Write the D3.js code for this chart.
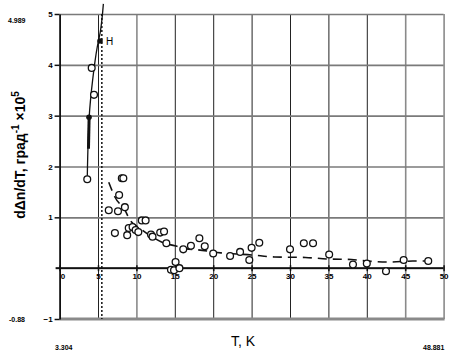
<!DOCTYPE html>
<html lang="ru">
<head>
<meta charset="utf-8">
<title>dΔn/dT vs T</title>
<script src="https://cdn.jsdelivr.net/npm/d3@7"></script>
<style>
  html, body { margin: 0; padding: 0; background: #fff; }
  svg { display: block; }
</style>
</head>
<body>
<svg id="chart"></svg>
<script>
// tick values
const xTicks = [0, 5, 10, 15, 20, 25, 30, 35, 40, 45, 50]
const yTicks = [5, 4, 3, 2, 1, -1]

// steep branch near the transition
const steepT = [3.6, 3.72, 3.85, 4.3, 4.9, 5.3, 5.7]
const steepY = [1.75, 2.5, 2.97, 3.7, 4.35, 4.65, 5.2]
const thickT = [3.76, 3.84]
const thickY = [2.35, 2.95]
const steepOpenT = [3.6, 4.18, 4.48]
const steepOpenY = [1.75, 3.94, 3.41]
const steepFilledT = [3.83, 5.26]
const steepFilledY = [2.97, 4.47]

// dashed fit
const fitT = [6.4, 7.2, 8.5, 9.2, 10.5, 12, 13.5, 15, 16.5, 18, 21, 25, 28, 32, 35, 38, 40, 43, 46, 48]
const fitY = [1.69, 1.4, 1.14, 0.94, 0.78, 0.62, 0.5, 0.44, 0.38, 0.36, 0.3, 0.26, 0.22, 0.21, 0.18, 0.17, 0.14, 0.12, 0.14, 0.14]

// measured points
const pointT = [6.4, 7.2, 7.6, 7.75, 8.1, 8.3, 8.5, 8.8, 9.0, 9.5, 9.9, 10.25, 10.7, 11.2, 11.9, 12.1,
  13.1, 13.6, 13.9, 14.5, 14.9, 15.1, 15.6, 16.1, 17.1, 18.2, 18.9, 20.0, 22.2, 23.5, 24.7, 25.0,
  26.0, 30.0, 31.8, 33.0, 35.1, 38.2, 40.0, 42.5, 44.8, 48.0]
const pointY = [1.14, 0.69, 1.12, 1.44, 1.77, 1.77, 1.2, 0.65, 0.79, 0.81, 0.75, 0.71, 0.94, 0.94, 0.66, 0.62,
  0.7, 0.72, 0.49, -0.03, -0.04, 0.12, 0.0, 0.37, 0.44, 0.59, 0.43, 0.29, 0.24, 0.32, 0.16, 0.4,
  0.5, 0.37, 0.49, 0.49, 0.27, 0.07, 0.09, -0.06, 0.16, 0.14]

const transitionT = 5.5

const width = 463
const height = 362

const x = d3.scaleLinear().domain([0, 50]).range([59.6, 443.6])
const y = d3.scaleLinear().domain([-1, 5]).range([319, 14])

const svg = d3.select("#chart")
    .attr("width", width)
    .attr("height", height)
    .attr("font-family", "'Liberation Sans', Arial, sans-serif")

const zip = (a, b) => a.map((v, i) => [v, b[i]])
const narrow = "'Liberation Sans Narrow', 'Liberation Sans', sans-serif"

// vertical grid via an axis with long ticks
svg.append("g")
    .attr("transform", `translate(0,${y(5)})`)
    .call(d3.axisBottom(x).tickValues(xTicks.slice(1)).tickSize(y(-1) - y(5)).tickFormat(""))
    .call(g => g.select(".domain").remove())
    .call(g => g.selectAll(".tick line")
        .attr("stroke", d => (d === 10 || d === 45 || d === 50) ? "#8a8a8a" : "#222")
        .attr("stroke-width", d => (d === 10 || d === 45 || d === 50) ? 1.6 : 1))

// horizontal grid
svg.append("g")
    .attr("transform", `translate(${x(0)},0)`)
    .call(d3.axisRight(y).tickValues([5, 4, 3, 2, 1]).tickSize(x(50) - x(0)).tickFormat(""))
    .call(g => g.select(".domain").remove())
    .call(g => g.selectAll(".tick line").attr("stroke", "#7a7a7a").attr("stroke-width", 1.6))

// bottom border and zero line as bands
svg.append("rect")
    .attr("x", x(0)).attr("width", x(50) - x(0) + 1)
    .attr("y", y(-1) - 1.5).attr("height", 3)
    .attr("fill", "#8a8a8a")

svg.append("rect")
    .attr("x", x(0) - 4).attr("width", x(50) - x(0) + 4)
    .attr("y", y(0) - 1).attr("height", 2)
    .attr("fill", "#111")

// small ticks and labels along the zero line
svg.append("g")
    .attr("transform", `translate(0,${y(0)})`)
    .call(d3.axisBottom(x).tickValues(xTicks).tickSize(3).tickSizeOuter(0).tickPadding(2))
    .call(g => g.select(".domain").remove())
    .call(g => g.selectAll(".tick line").attr("stroke", "#111").attr("stroke-width", 1.5).attr("y1", -3))
    .call(g => g.selectAll(".tick text")
        .attr("font-size", 8).attr("font-weight", "bold").attr("font-family", narrow)
        .attr("dx", d => d === 0 ? 3 : 0))

// y axis
svg.append("g")
    .attr("transform", `translate(${x(0)},0)`)
    .call(d3.axisLeft(y).tickValues(yTicks).tickFormat(d3.format("d")).tickSize(5).tickPadding(2).tickSizeOuter(0))
    .call(g => g.select(".domain").attr("stroke", "#111").attr("stroke-width", 1.8))
    .call(g => g.selectAll(".tick line").attr("stroke", "#111").attr("stroke-width", 1.5))
    .call(g => g.selectAll(".tick text").attr("font-size", 8).attr("font-weight", "bold").attr("font-family", narrow))

// transition marker
svg.append("line")
    .attr("x1", x(transitionT)).attr("x2", x(transitionT))
    .attr("y1", y(5)).attr("y2", y(-1))
    .attr("stroke", "#111").attr("stroke-width", 1.5)
    .attr("stroke-dasharray", "2,2")

// steep branch
svg.append("path")
    .datum(zip(steepT, steepY))
    .attr("d", d3.line().x(d => x(d[0])).y(d => y(d[1])).curve(d3.curveMonotoneY))
    .attr("fill", "none").attr("stroke", "#111").attr("stroke-width", 1.3)

svg.append("path")
    .datum(zip(thickT, thickY))
    .attr("d", d3.line().x(d => x(d[0])).y(d => y(d[1])))
    .attr("fill", "none").attr("stroke", "#111").attr("stroke-width", 3)

// dashed fit
svg.append("path")
    .datum(zip(fitT, fitY))
    .attr("d", d3.line().x(d => x(d[0])).y(d => y(d[1])).curve(d3.curveMonotoneX))
    .attr("fill", "none").attr("stroke", "#111").attr("stroke-width", 1.6)
    .attr("stroke-dasharray", "9,6")

// points
svg.append("g")
    .selectAll("circle")
    .data(zip(pointT, pointY).concat(zip(steepOpenT, steepOpenY)))
    .join("circle")
    .attr("cx", d => x(d[0]))
    .attr("cy", d => y(d[1]))
    .attr("r", 3.4)
    .attr("fill", "#fff")
    .attr("stroke", "#111")
    .attr("stroke-width", 1.3)

svg.append("g")
    .selectAll("circle")
    .data(zip(steepFilledT, steepFilledY))
    .join("circle")
    .attr("cx", d => x(d[0]))
    .attr("cy", d => y(d[1]))
    .attr("r", 2.8)
    .attr("fill", "#111")

svg.append("text")
    .attr("x", x(5.26) + 6).attr("y", y(4.47) + 4)
    .attr("font-size", 10)
    .text("H")

// axis titles
svg.append("text")
    .attr("transform", "translate(25,155) rotate(-90)")
    .attr("text-anchor", "middle")
    .attr("font-size", 14)
    .attr("font-weight", "bold")
    .call(t => {
        t.append("tspan").text("dΔn/dT, град")
        t.append("tspan").attr("dy", -6).attr("font-size", 10).text("-1")
        t.append("tspan").attr("dy", 6).text(" ×10")
        t.append("tspan").attr("dy", -6).attr("font-size", 10).text("5")
    })

svg.append("text")
    .attr("x", 243).attr("y", 346)
    .attr("text-anchor", "middle")
    .attr("font-size", 14)
    .text("T, K")

// range labels
const rangeLabels = [
    { text: "4.989", x: 8, y: 23 },
    { text: "-0.88", x: 9, y: 322 },
    { text: "3.304", x: 55, y: 350 },
    { text: "48.881", x: 423, y: 350 }
]
svg.append("g")
    .selectAll("text")
    .data(rangeLabels)
    .join("text")
    .attr("x", d => d.x).attr("y", d => d.y)
    .attr("font-size", 7)
    .attr("font-weight", "bold")
    .attr("font-family", narrow)
    .text(d => d.text)
</script>
</body>
</html>
